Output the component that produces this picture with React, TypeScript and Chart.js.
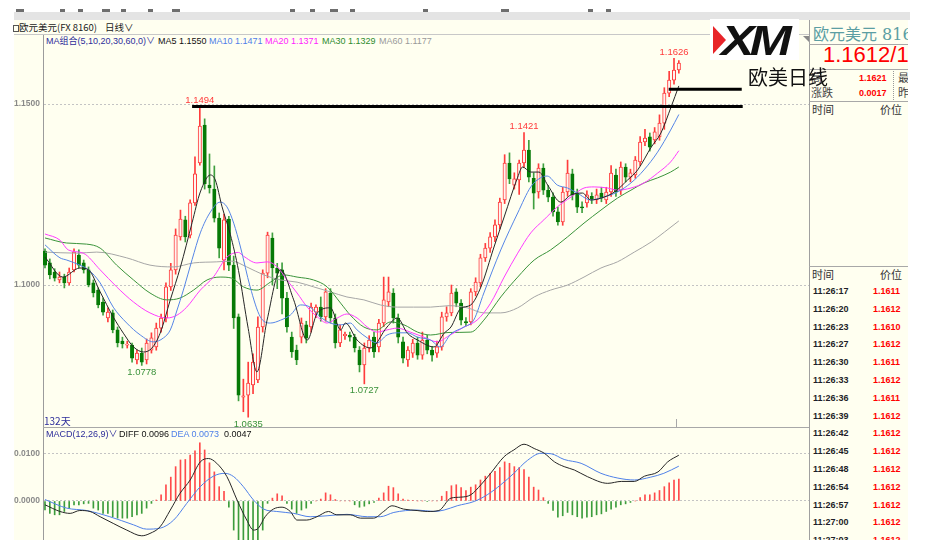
import React, { useEffect, useRef } from "react";
import { Chart, registerables } from "chart.js";
Chart.register(...registerables);

// ---------- daily candles (EUR/USD, 132 days) ----------
const opens = [
  1.1094, 1.1061, 1.1036, 1.1014, 1.1022, 1.1006, 1.1042, 1.1083, 1.1061, 1.1042,
  1.1006, 1.0986, 1.0953, 1.0909, 1.0923, 1.0876, 1.0845, 1.0834, 1.0834, 1.0793,
  1.0812, 1.0793, 1.082, 1.0829, 1.0881, 1.0909, 1.0995, 1.1042, 1.1133, 1.118,
  1.1138, 1.1227, 1.1337, 1.1442, 1.1276, 1.1265, 1.1185, 1.1069, 1.1182, 1.1055,
  1.0912, 1.069, 1.0696, 1.0724, 1.0738, 1.0884, 1.1033, 1.113, 1.1047, 1.1042,
  1.0964, 1.0856, 1.082, 1.0856, 1.089, 1.0884, 1.0925, 1.0939, 1.0912, 1.0978,
  1.0909, 1.084, 1.086, 1.0862, 1.0856, 1.082, 1.0779, 1.0826, 1.0856, 1.0829,
  1.0895, 1.0953, 1.0978, 1.0909, 1.0843, 1.0793, 1.0812, 1.084, 1.0806, 1.0848,
  1.082, 1.0812, 1.0829, 1.0912, 1.0923, 1.0981, 1.095, 1.0899, 1.0898, 1.0981,
  1.1006, 1.1075, 1.1102, 1.1133, 1.1166, 1.1235, 1.1337, 1.1276, 1.129, 1.1337,
  1.1373, 1.1295, 1.1257, 1.1323, 1.1262, 1.1243, 1.1202, 1.1174, 1.1257, 1.1307,
  1.1254, 1.1216, 1.1227, 1.1245, 1.1235, 1.1254, 1.1235, 1.1257, 1.1304, 1.1262,
  1.1326, 1.1298, 1.1304, 1.134, 1.1395, 1.1409, 1.1401, 1.1409, 1.1447, 1.153,
  1.1566, 1.1594,
];
const closes = [
  1.1055, 1.1028, 1.1019, 1.1022, 1.1006, 1.1036, 1.1091, 1.1055, 1.1042, 1.1,
  1.0978, 1.0945, 1.0925, 1.0925, 1.0876, 1.084, 1.0837, 1.0837, 1.0798, 1.0812,
  1.0787, 1.084, 1.0854, 1.0881, 1.0909, 1.0995, 1.1042, 1.1138, 1.1182, 1.1133,
  1.1227, 1.1307, 1.1439, 1.1279, 1.1268, 1.1185, 1.1102, 1.118, 1.1055, 1.0909,
  1.0696, 1.0694, 1.0729, 1.0787, 1.0884, 1.1033, 1.1138, 1.1047, 1.1033, 1.0964,
  1.0884, 1.0815, 1.0793, 1.0895, 1.0853, 1.0939, 1.0939, 1.0912, 1.0981, 1.0909,
  1.084, 1.0876, 1.0864, 1.0856, 1.0826, 1.0779, 1.0826, 1.0848, 1.0815, 1.0895,
  1.0959, 1.0981, 1.0909, 1.0856, 1.0798, 1.082, 1.084, 1.0806, 1.0848, 1.082,
  1.0806, 1.0829, 1.0912, 1.0923, 1.0978, 1.095, 1.0903, 1.0895, 1.0981, 1.1008,
  1.1075, 1.1102, 1.1133, 1.1166, 1.1229, 1.1337, 1.1293, 1.1293, 1.1337, 1.1373,
  1.1298, 1.1254, 1.1323, 1.1262, 1.1243, 1.1202, 1.1174, 1.1257, 1.1309, 1.1249,
  1.1215, 1.1213, 1.1249, 1.1238, 1.1249, 1.124, 1.1257, 1.1309, 1.1257, 1.1326,
  1.1298, 1.131, 1.1345, 1.1395, 1.1406, 1.1381, 1.1423, 1.1447, 1.153, 1.1566,
  1.1594, 1.1613,
];
const highs = [
  1.11, 1.1072, 1.1045, 1.1036, 1.103, 1.1047, 1.11, 1.1097, 1.1069, 1.105,
  1.1014, 1.0992, 1.0964, 1.0937, 1.0931, 1.0884, 1.0856, 1.0845, 1.084, 1.082,
  1.0826, 1.0851, 1.0868, 1.0895, 1.092, 1.1006, 1.106, 1.1155, 1.1207, 1.119,
  1.1235, 1.1354, 1.1494, 1.1459, 1.1362, 1.1329, 1.1199, 1.1196, 1.119, 1.108,
  1.092, 1.074, 1.0787, 1.081, 1.0912, 1.1042, 1.1146, 1.1144, 1.106, 1.1061,
  1.098, 1.087, 1.0834, 1.0909, 1.09, 1.095, 1.0945, 1.0967, 1.099, 1.099,
  1.092, 1.089, 1.087, 1.087, 1.0864, 1.083, 1.084, 1.086, 1.087, 1.0905,
  1.1022, 1.1022, 1.099, 1.092, 1.0856, 1.083, 1.085, 1.0856, 1.087, 1.0862,
  1.083, 1.0845, 1.0925, 1.094, 1.1, 1.099, 1.096, 1.091, 1.099, 1.102,
  1.1085, 1.1115, 1.1145, 1.118, 1.124, 1.136, 1.1365, 1.131, 1.1345, 1.1421,
  1.14, 1.131, 1.1335, 1.1335, 1.1275, 1.1255, 1.1215, 1.127, 1.1345, 1.132,
  1.1265, 1.123, 1.126, 1.1255, 1.1265, 1.127, 1.127, 1.133, 1.132, 1.134,
  1.1335, 1.132, 1.1355, 1.141, 1.143, 1.142, 1.1435, 1.147, 1.1545, 1.159,
  1.1626, 1.162,
];
const lows = [
  1.1047, 1.1017, 1.1011, 1.1006, 1.0992, 1.1, 1.1036, 1.1047, 1.1033, 1.0995,
  1.0967, 1.0937, 1.0917, 1.0898, 1.0868, 1.0829, 1.0826, 1.0826, 1.0787, 1.0782,
  1.0778, 1.0782, 1.0812, 1.082, 1.087, 1.0898, 1.0985, 1.103, 1.1124, 1.1119,
  1.113, 1.122, 1.1331, 1.1265, 1.1254, 1.1174, 1.1075, 1.1042, 1.104, 1.088,
  1.068, 1.065, 1.0635, 1.07, 1.073, 1.087, 1.102, 1.1, 1.099, 1.092,
  1.087, 1.08, 1.078, 1.084, 1.084, 1.087, 1.091, 1.09, 1.09, 1.0895,
  1.0826, 1.083, 1.085, 1.0845, 1.0815, 1.076, 1.0727, 1.0815, 1.08, 1.0815,
  1.0885, 1.094, 1.0895, 1.084, 1.0785, 1.0775, 1.08, 1.0795, 1.0795, 1.081,
  1.079, 1.08, 1.082, 1.09, 1.0915, 1.094, 1.089, 1.0887, 1.089, 1.097,
  1.0995, 1.1065, 1.109, 1.112, 1.1155, 1.1225, 1.128, 1.1265, 1.125, 1.1325,
  1.1285, 1.121, 1.124, 1.125, 1.123, 1.119, 1.1165, 1.1165, 1.1245, 1.1235,
  1.12, 1.12, 1.1215, 1.1225, 1.1225, 1.123, 1.1225, 1.1245, 1.1245, 1.125,
  1.1285, 1.1285, 1.1295, 1.133, 1.1385, 1.137, 1.139, 1.14, 1.143, 1.152,
  1.1555, 1.1585,
];

// indices of candles whose high / low is annotated on the chart
const highMarks = [32, 99, 130];
const lowMarks = [20, 42, 66];

// ---------- moving averages: [day index, price] ----------
const ma5 = [
  [0, 1.1077], [3.7, 1.1022], [7.2, 1.1047], [9, 1.1042], [11.4, 1.0981], [14.1, 1.0912], [16.2, 1.0867],
  [18.3, 1.0829], [20.4, 1.0815], [22.1, 1.0826], [23.8, 1.0867], [25.9, 1.0959], [28, 1.105], [30.4, 1.1172],
  [32.1, 1.1257], [34.2, 1.1304], [35.2, 1.129], [36.6, 1.1216], [38.3, 1.114], [40, 1.104], [42, 1.088],
  [43.8, 1.076], [45.9, 1.0903], [48.7, 1.1042], [51.4, 1.0959], [54.2, 1.0848], [56.3, 1.0923], [59, 1.0937],
  [61.1, 1.0876], [62.1, 1.0895], [64.5, 1.0848], [67.3, 1.0826], [70.7, 1.0884], [72.8, 1.0909], [74.9, 1.0867],
  [77, 1.0848], [80.4, 1.0829], [82.5, 1.0867], [83.9, 1.0884], [85.9, 1.0935], [88, 1.0945], [90.1, 1.0995],
  [92.8, 1.1105], [94.9, 1.1188], [97.7, 1.1298], [98.7, 1.1326], [100.4, 1.1312], [102.1, 1.1312], [103.9, 1.1276],
  [106.6, 1.1229], [108.7, 1.1249], [111.1, 1.1254], [112.8, 1.1235], [114.9, 1.124], [117.7, 1.1257], [120.4, 1.129],
  [122.5, 1.1318], [125.3, 1.1381], [127.3, 1.142], [129.4, 1.1492], [131, 1.155],
];
const ma10 = [
  [0, 1.1111], [3.1, 1.1075], [4.5, 1.1069], [7.2, 1.1055], [9, 1.1042], [11.4, 1.1006], [14.1, 1.0939],
  [16.9, 1.0895], [19.7, 1.0862], [22.4, 1.0843], [24.5, 1.0854], [25.9, 1.0876], [27.3, 1.0931], [28.6, 1.0986],
  [30.4, 1.107], [32.1, 1.1144], [34.2, 1.1202], [36.2, 1.1229], [37.6, 1.1216], [39, 1.1171], [40.4, 1.1105],
  [42.4, 1.0995], [44.5, 1.0912], [46.6, 1.0895], [48.7, 1.0903], [50.7, 1.0917], [52.8, 1.0945], [54.8, 1.0939],
  [56.9, 1.0912], [59, 1.0895], [61.1, 1.089], [63.1, 1.0895], [64.5, 1.0876], [66.6, 1.0854], [68.6, 1.084],
  [70.7, 1.0862], [72.8, 1.0868], [74.9, 1.0868], [77, 1.0856], [79.7, 1.0848], [81.7, 1.0829], [83.9, 1.0865],
  [86.6, 1.0884], [88.6, 1.0903], [90.7, 1.0978], [94.2, 1.1097], [97.7, 1.1199], [100.4, 1.1271], [102.4, 1.1296],
  [103.8, 1.1301], [105.9, 1.1276], [108, 1.1268], [110, 1.1254], [112.8, 1.1235], [115.5, 1.1243], [118.3, 1.1257],
  [121.1, 1.1282], [123.8, 1.1318], [126.6, 1.1367], [129.3, 1.1428], [131, 1.1471],
];
const ma20 = [
  [0, 1.1141], [3.1, 1.1124], [4.8, 1.1097], [7.9, 1.1088], [11.4, 1.1042], [14.8, 1.0995], [18.3, 1.0953],
  [21.7, 1.0923], [25.2, 1.0909], [27.3, 1.0917], [29.3, 1.0939], [32.1, 1.0986], [34.8, 1.1022], [37.6, 1.1077],
  [40, 1.109], [41, 1.108], [43.8, 1.1061], [45.9, 1.1064], [48, 1.105], [50, 1.1014], [52.1, 1.0978],
  [54.2, 1.0939], [56.3, 1.0912], [58.3, 1.0895], [60.4, 1.0909], [62.4, 1.092], [64.5, 1.0909], [66.6, 1.0884],
  [68.6, 1.087], [70.7, 1.0876], [72.8, 1.0881], [75.5, 1.087], [78.3, 1.0856], [81.1, 1.0843], [83.5, 1.086],
  [86.6, 1.0884], [89.3, 1.0903], [92.1, 1.095], [94.9, 1.1022], [97.7, 1.1088], [100.4, 1.1144], [103.1, 1.118],
  [105.9, 1.1216], [108.7, 1.1243], [111.4, 1.1268], [113.5, 1.1271], [116.3, 1.1268], [118.3, 1.1262], [121.1, 1.1268],
  [123.8, 1.1282], [126.6, 1.1309], [129.3, 1.134], [131, 1.1371],
];
const ma30 = [
  [0, 1.113], [4.5, 1.1116], [8.6, 1.1113], [11.4, 1.1102], [14.8, 1.1055], [18.3, 1.1014], [21.7, 1.0978],
  [25.2, 1.0959], [27.9, 1.0964], [30.7, 1.0986], [33.5, 1.1014], [36.2, 1.1022], [38.6, 1.1019], [41, 1.0995],
  [43.8, 1.0986], [46.6, 1.1008], [49.3, 1.1028], [52.1, 1.1022], [55.5, 1.1014], [58.3, 1.0995], [61.1, 1.095],
  [63.1, 1.0917], [65.9, 1.0884], [68.6, 1.0876], [71.4, 1.0898], [74.2, 1.089], [77, 1.087], [79.7, 1.0862],
  [83.5, 1.0869], [88, 1.087], [90.7, 1.0903], [94.2, 1.0967], [97.7, 1.1022], [101.1, 1.1069], [104.5, 1.1097],
  [108, 1.1133], [111.4, 1.1171], [114.9, 1.1207], [118.3, 1.124], [121.1, 1.1262], [123.8, 1.1282], [126.6, 1.1296],
  [129.3, 1.1312], [131, 1.1326],
];
const ma60 = [
  [0, 1.1091], [6.6, 1.1088], [10.7, 1.1091], [16.9, 1.1075], [21.7, 1.1055], [26.6, 1.105], [30.7, 1.1061],
  [35.5, 1.1064], [38.6, 1.1066], [41.7, 1.105], [45.2, 1.1028], [48.7, 1.1014], [52.1, 1.1008], [55.5, 1.0995],
  [59, 1.0981], [62.4, 1.0967], [65.9, 1.0959], [69.3, 1.0945], [72.8, 1.0939], [76.2, 1.0939], [79.7, 1.0939],
  [83.5, 1.0943], [87.3, 1.0937], [90.7, 1.0923], [94.2, 1.0923], [97.7, 1.0937], [101.1, 1.0967], [104.5, 1.0986],
  [108, 1.1], [111.4, 1.1022], [114.9, 1.1047], [118.3, 1.1064], [121.8, 1.1091], [125.3, 1.1119], [128, 1.1146],
  [131, 1.1177],
];

// hand-drawn horizontal lines: [day index, price]
const trendA = [[30.4, 1.1493], [144.2, 1.1493]];
const trendB = [[128.9, 1.1541], [144.0, 1.1541]];

// ---------- MACD(12,26,9) ----------
const macdHist = [
  -0.0019, -0.0026, -0.0029, -0.0029, -0.0022, -0.0015, -0.0008, -0.0008, -0.0006, -0.0005,
  -0.0015, -0.0019, -0.0026, -0.0026, -0.0033, -0.0036, -0.0036, -0.0036, -0.0033, -0.0029,
  -0.0026, -0.0015, -0.0005, 0.0002, 0.0013, 0.0034, 0.005, 0.0072, 0.0086, 0.0087,
  0.0096, 0.0105, 0.0122, 0.0107, 0.008, 0.0061, 0.003, 0.002, -0.0013, -0.0061,
  -0.0085, -0.0095, -0.0095, -0.009, -0.0082, -0.0061, -0.0005, 0.0006, 0.0015, 0.0011,
  -0.0005, -0.0017, -0.0026, -0.0019, -0.0015, -0.0005, 0.0, 0.0004, 0.0017, 0.0013,
  0.0003, 0.0, 0.0, 0.0, -0.0008, -0.0013, -0.0011, -0.0006, -0.0003, 0.0006,
  0.0017, 0.0031, 0.0028, 0.0015, 0.0004, 0.0002, 0.0001, 0.0, 0.0, -0.0001,
  0.0, 0.0, 0.001, 0.002, 0.0032, 0.0034, 0.0028, 0.0022, 0.0029, 0.0034,
  0.0044, 0.0052, 0.0058, 0.0062, 0.007, 0.0082, 0.0079, 0.0072, 0.007, 0.0066,
  0.005, 0.0029, 0.0023, 0.0007, -0.0005, -0.002, -0.0034, -0.0031, -0.0024, -0.0029,
  -0.0033, -0.0036, -0.0034, -0.0033, -0.0029, -0.0027, -0.0022, -0.0017, -0.0013, -0.0008,
  -0.0006, -0.0003, 0.0, 0.0007, 0.0013, 0.0013, 0.0017, 0.0022, 0.003, 0.0038,
  0.0044, 0.0046,
];
const diffLine = [
  [0, -0.0008], [3.1, -0.0022], [5.2, -0.0026], [7.2, -0.002], [9.3, -0.0022], [11.4, -0.0033], [14.1, -0.0047],
  [16.9, -0.0061], [20, -0.0073], [21.7, -0.0068], [23.8, -0.0054], [25.9, -0.0019], [27.9, 0.0016], [30, 0.0044],
  [32.1, 0.0082], [33.8, 0.0089], [35.5, 0.0079], [37.6, 0.0051], [39.7, 0.0002], [41.7, -0.004], [43.1, -0.0061],
  [44.1, -0.0057], [45.5, -0.0033], [47.2, -0.0017], [49, -0.0013], [50.7, -0.0022], [52.1, -0.004], [54.1, -0.004],
  [56.2, -0.0033], [58.6, -0.0022], [60.3, -0.0029], [63.1, -0.0029], [65.2, -0.0036], [67.9, -0.0036], [70, -0.0022],
  [71.7, -0.001], [74.1, -0.0017], [76.9, -0.002], [79, -0.0022], [81.4, -0.002], [83.9, 0.0006], [85.9, 0.0008],
  [88, 0.0013], [90.1, 0.0034], [92.1, 0.0058], [94.9, 0.0093], [96.9, 0.0107], [99, 0.0119], [101.1, 0.011],
  [103.2, 0.01], [105.3, 0.0082], [107.3, 0.0072], [109.4, 0.0065], [112.1, 0.0051], [116.3, 0.0037], [119.1, 0.0041],
  [121.8, 0.0041], [123.9, 0.0052], [126.7, 0.0061], [128.7, 0.0082], [131, 0.0096],
];
const deaLine = [
  [0, 0.0003], [4.5, -0.0015], [8.6, -0.002], [13.4, -0.0033], [18.3, -0.005], [21, -0.0059], [23.8, -0.0057],
  [26.6, -0.004], [29.3, -0.0005], [32.1, 0.003], [34.8, 0.0052], [37.2, 0.0058], [39, 0.0051], [41, 0.003],
  [43.1, 0.0002], [45.2, -0.0017], [47.9, -0.0022], [51.4, -0.0026], [54.8, -0.0033], [58.3, -0.0031], [62.4, -0.0028],
  [66.6, -0.0033], [69.3, -0.0033], [72.1, -0.0024], [76.9, -0.0019], [80.4, -0.0022], [82.5, -0.0019], [85.2, -0.001],
  [88.7, -0.0001], [91.4, 0.0013], [94.2, 0.0034], [96.9, 0.0058], [99.7, 0.0085], [102.5, 0.01], [104.6, 0.0099],
  [107.3, 0.0087], [110.8, 0.0079], [114.9, 0.0058], [118.4, 0.0048], [121.8, 0.0044], [125.2, 0.005], [127.9, 0.0058],
  [131, 0.0073],
];

// axis ticks
const priceTicks = [1.1, 1.15];
const macdTicks = [0, 0.01];

// quote panel
const tickTimes = [
  "11:26:17", "11:26:20", "11:26:23", "11:26:27", "11:26:30", "11:26:33", "11:26:36", "11:26:39",
  "11:26:42", "11:26:45", "11:26:48", "11:26:54", "11:26:57", "11:27:00", "11:27:03",
];
const tickPrices = [
  "1.1611", "1.1612", "1.1610", "1.1612", "1.1611", "1.1612", "1.1611", "1.1612",
  "1.1612", "1.1612", "1.1612", "1.1612", "1.1612", "1.1612", "1.1612",
];

// ---------- styling ----------
const LAT = '"Liberation Sans", "Noto Sans CJK SC", sans-serif';
const CJK = '"Noto Sans CJK SC", "Liberation Sans", sans-serif';
const CREAM = "#fffff0";
const UP = "#ff3c3c";
const UP_FILL = "#fff4f0";
const DOWN = "#067a06";
const DOWN_WICK = "#3f9f3f";
const X_MIN = -0.41;
const X_MAX = 157.9;

const toXY = (pts: number[][]) => pts.map(([x, y]) => ({ x, y }));

const yAxis = (ticks: number[], min: number, max: number): any => ({
  type: "linear",
  position: "left",
  min,
  max,
  afterBuildTicks: (s: any) => {
    s.ticks = ticks.map((v) => ({ value: v }));
  },
  afterFit: (s: any) => {
    s.width = 43;
    s.paddingTop = 0;
    s.paddingBottom = 0;
  },
  ticks: {
    callback: (v: any) => Number(v).toFixed(4),
    color: "#8a8a8a",
    font: { family: LAT, size: 8.5, weight: "bold" },
    padding: 3,
  },
  grid: { color: "#c4c4c4", drawTicks: false, tickLength: 0, lineWidth: 1 },
  border: { display: true, color: "#9c9c9c", width: 1, dash: [2, 2] },
});

const xAxis: any = { type: "linear", min: X_MIN, max: X_MAX, display: false, offset: false };

const line = (pts: number[][], color: string, order: number, width = 1, smooth = true): any => ({
  type: "line",
  data: toXY(pts),
  borderColor: color,
  borderWidth: width,
  pointRadius: 0,
  cubicInterpolationMode: smooth ? "monotone" : "default",
  tension: 0,
  order,
});

const markPlugin = {
  id: "hlMarks",
  afterDatasetsDraw(chart: any) {
    const { ctx, scales } = chart;
    const x = scales.x;
    const y = scales.y;
    ctx.save();
    ctx.font = `9.5px ${LAT}`;
    ctx.textAlign = "center";
    ctx.fillStyle = "#ff3a3a";
    ctx.textBaseline = "bottom";
    highMarks.forEach((i) => {
      ctx.fillText(highs[i].toFixed(4), x.getPixelForValue(i), y.getPixelForValue(highs[i]) - 1);
    });
    ctx.fillStyle = "#3a923a";
    ctx.textBaseline = "top";
    lowMarks.forEach((i) => {
      ctx.fillText(lows[i].toFixed(4), x.getPixelForValue(i), y.getPixelForValue(lows[i]) + 2);
    });
    ctx.restore();
  },
};

const baseOptions = (yScale: any): any => ({
  responsive: false,
  animation: false,
  events: [],
  layout: { padding: 0 },
  plugins: { legend: { display: false }, tooltip: { enabled: false } },
  scales: { x: xAxis, y: yScale },
});

function PricePane() {
  const ref = useRef<HTMLCanvasElement>(null);
  useEffect(() => {
    const up = (i: number) => closes[i] >= opens[i];
    const chart = new Chart(ref.current as HTMLCanvasElement, {
      type: "bar",
      data: {
        datasets: [
          {
            type: "bar",
            data: highs.map((h, i) => ({ x: i, y: [lows[i], h] })),
            backgroundColor: highs.map((_, i) => (up(i) ? UP : DOWN_WICK)),
            barThickness: 1,
            grouped: false,
            order: 20,
          } as any,
          {
            type: "bar",
            data: opens.map((o, i) => ({ x: i, y: [o, closes[i]] })),
            backgroundColor: opens.map((_, i) => (up(i) ? UP_FILL : DOWN)),
            borderColor: opens.map((_, i) => (up(i) ? UP : DOWN)),
            borderWidth: 1,
            borderSkipped: false,
            barThickness: 3.4,
            minBarLength: 1,
            grouped: false,
            order: 19,
          } as any,
          line(ma60, "#a6a6a6", 9),
          line(ma30, "#3a933a", 8),
          line(ma20, "#ff3cff", 7),
          line(ma10, "#5585e6", 6),
          line(ma5, "#262626", 5),
          line(trendA, "#000000", 1, 3, false),
          line(trendB, "#000000", 1, 3, false),
        ],
      },
      options: baseOptions(yAxis(priceTicks, 1.06051, 1.16906)),
      plugins: [markPlugin],
    });
    return () => chart.destroy();
  }, []);
  return (
    <canvas
      ref={ref}
      width={809}
      height={393}
      style={{ position: "absolute", left: 0, top: 35, width: 809, height: 393 }}
    />
  );
}

function MacdPane() {
  const ref = useRef<HTMLCanvasElement>(null);
  useEffect(() => {
    const chart = new Chart(ref.current as HTMLCanvasElement, {
      type: "bar",
      data: {
        datasets: [
          {
            type: "bar",
            data: macdHist.map((v, i) => ({ x: i, y: v })),
            backgroundColor: macdHist.map((v) => (v >= 0 ? "#ff4a4a" : "#3c9c3c")),
            barThickness: 1,
            grouped: false,
            order: 10,
          } as any,
          line(deaLine, "#4f80e8", 3),
          line(diffLine, "#262626", 2),
        ],
      },
      options: baseOptions(yAxis(macdTicks, -0.00818, 0.0153)),
    });
    return () => chart.destroy();
  }, []);
  return (
    <canvas
      ref={ref}
      width={809}
      height={112}
      style={{ position: "absolute", left: 0, top: 428, width: 809, height: 112 }}
    />
  );
}

function Txt(p: {
  x: number;
  y: number;
  s: number;
  c?: string;
  b?: boolean;
  f?: string;
  ls?: number;
  children: any;
}) {
  return (
    <div
      style={{
        position: "absolute",
        left: p.x,
        top: p.y,
        fontSize: p.s,
        lineHeight: `${p.s}px`,
        color: p.c || "#111",
        fontWeight: p.b ? "bold" : "normal",
        fontFamily: p.f || LAT,
        letterSpacing: p.ls || 0,
        whiteSpace: "nowrap",
      }}
    >
      {p.children}
    </div>
  );
}

const Box = (p: { x: number; y: number; w: number; h: number; c: string; st?: any }) => (
  <div style={{ position: "absolute", left: p.x, top: p.y, width: p.w, height: p.h, background: p.c, ...(p.st || {}) }} />
);

export default function App() {
  return (
    <div
      style={{
        position: "absolute",
        left: 0,
        top: 0,
        width: 928,
        height: 560,
        background: "#ffffff",
        overflow: "hidden",
      }}
    >
      {/* toolbar strip */}
      <Box x={14} y={12} w={896} h={8} c="#e4e4e4" />
      {[16, 60, 78, 102, 121, 148, 172, 290, 310, 330, 350, 423, 501, 588, 606].map((x, k) => (
        <Box key={k} x={x} y={9} w={k % 3 === 0 ? 8 : 5} h={3} c="#6e6e6e" />
      ))}
      {/* cream work area */}
      <Box x={14} y={20} w={894} h={520} c={CREAM} />

      {/* title row */}
      <Box x={13} y={25} w={4} h={5} c="transparent" st={{ border: "1px solid #555" }} />
      <Txt x={19} y={23} s={9.5} c="#222" f={CJK}>
        欧元美元(FX 8160)
      </Txt>
      <Txt x={105} y={23} s={9.5} c="#222" f={CJK}>
        日线∨
      </Txt>
      <Box x={14} y={34} w={795} h={1} c="#c8c8c8" />

      {/* MA legend */}
      <Txt x={46} y={37} s={9} c="#2d2d9a">
        MA组合(5,10,20,30,60,0)∨
      </Txt>
      <Txt x={158} y={37} s={9} c="#111">
        MA5 1.1550
      </Txt>
      <Txt x={209} y={37} s={9} c="#4f80e8">
        MA10 1.1471
      </Txt>
      <Txt x={265} y={37} s={9} c="#ff22ff">
        MA20 1.1371
      </Txt>
      <Txt x={322} y={37} s={9} c="#2e8b2e">
        MA30 1.1329
      </Txt>
      <Txt x={379} y={37} s={9} c="#9a9a9a">
        MA60 1.1177
      </Txt>

      <PricePane />
      <MacdPane />

      {/* pane separator and bar count */}
      <Box x={43} y={427} w={766} h={1} c="#a8a8a8" />
      <Box x={676} y={419} w={1} h={8} c="#a8a8a8" />
      <Txt x={44} y={416} s={10} c="#2d2d9a" f={CJK}>
        132天
      </Txt>

      {/* MACD legend */}
      <Txt x={46} y={430} s={9} c="#2d2d9a">
        MACD(12,26,9)∨
      </Txt>
      <Txt x={119} y={430} s={9} c="#111">
        DIFF 0.0096
      </Txt>
      <Txt x={171} y={430} s={9} c="#4f80e8">
        DEA 0.0073
      </Txt>
      <Txt x={224} y={430} s={9} c="#111">
        0.0047
      </Txt>

      {/* quote panel */}
      <div style={{ position: "absolute", left: 809, top: 20, width: 99, height: 520, overflow: "hidden" }}>
        <Box x={0} y={0} w={1} h={520} c="#a0a0a0" />
        <Txt x={4} y={7} s={16} c="#5b9ea3" f={'"DejaVu Serif", "Noto Sans CJK SC", serif'}>
          欧元美元 8160
        </Txt>
        <Box x={0} y={24} w={99} h={1} c="#a8a8a8" />
        <Txt x={14} y={24} s={22} c="#ff0000">
          1.1612/1.1614
        </Txt>
        <Box x={0} y={49} w={99} h={1} c="#a8a8a8" />
        <Txt x={2} y={52} s={11} c="#444" f={CJK}>
          高
        </Txt>
        <Txt x={50} y={54} s={9} c="#ff0000" b>
          1.1621
        </Txt>
        <Txt x={89} y={52} s={11} c="#444" f={CJK}>
          最
        </Txt>
        <Txt x={2} y={67} s={11} c="#444" f={CJK}>
          涨跌
        </Txt>
        <Txt x={50} y={69} s={9} c="#ff0000" b>
          0.0017
        </Txt>
        <Txt x={89} y={67} s={11} c="#444" f={CJK}>
          昨
        </Txt>
        <Box x={84} y={51} w={0} h={29} c="transparent" st={{ borderLeft: "1px dotted #999" }} />
        <Box x={0} y={81} w={99} h={1} c="#a8a8a8" />
        <Txt x={3} y={84} s={11} c="#333" f={CJK}>
          时间
        </Txt>
        <Txt x={71} y={84} s={11} c="#333" f={CJK}>
          价位
        </Txt>
        <Box x={0} y={246} w={99} h={1} c="#a8a8a8" />
        <Txt x={3} y={249} s={11} c="#333" f={CJK}>
          时间
        </Txt>
        <Txt x={71} y={249} s={11} c="#333" f={CJK}>
          价位
        </Txt>
        {tickTimes.map((t, k) => (
          <React.Fragment key={k}>
            <Txt x={4} y={267 + k * 17.8} s={9} c="#1e1e28" b>
              {t}
            </Txt>
            <Txt x={64} y={267 + k * 17.8} s={9} c="#ff0000" b>
              {tickPrices[k]}
            </Txt>
          </React.Fragment>
        ))}
      </div>

      {/* XM logo */}
      <Box x={710} y={19} w={89} h={41} c="#ffffff" />
      <Box x={713} y={26} w={13} h={28} c="#e8242a" st={{ clipPath: "polygon(0 0, 100% 50%, 0 100%)" }} />
      <Txt x={721} y={20} s={42} c="#111" b f={'"Liberation Sans", sans-serif'} ls={-4}>
        <span
          style={{
            display: "inline-block",
            fontStyle: "italic",
            fontWeight: 900,
            transform: "scaleX(1.2)",
            transformOrigin: "left center",
          }}
        >
          XM
        </span>
      </Txt>
      <Box x={803} y={36} w={6} h={6} c="#8a8a8a" st={{ clipPath: "polygon(0 0, 100% 0, 100% 100%)" }} />

      {/* annotation */}
      <Txt x={748} y={67} s={20} c="#111" f={CJK}>
        欧美日线
      </Txt>
    </div>
  );
}
